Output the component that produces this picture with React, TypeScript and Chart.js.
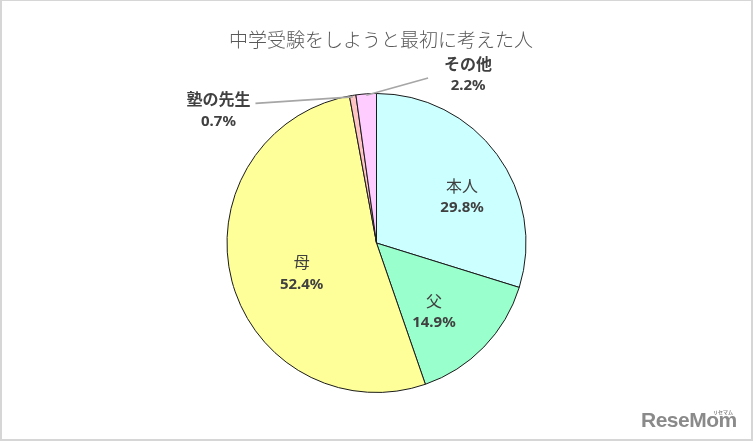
import React, { useEffect, useRef } from "react";
import { Chart, registerables } from "chart.js";

Chart.register(...registerables);

const categories = ["本人", "父", "母", "塾の先生", "その他"];
const values = [29.8, 14.9, 52.4, 0.7, 2.2];
const sliceColors = ["#CCFFFF", "#99FFCC", "#FFFF99", "#FFC4C4", "#FFCCFF"];
const titleText = "中学受験をしようと最初に考えた人";

// label placement (polar, relative to the pie centre): angle in degrees, radius as a fraction of the pie radius
const labelAngles = [-28.3, 50.2, 158, -140, -61.4];
const labelRadii = [0.65, 0.6, 0.54, 1.38, 1.28];
const labelOutside = [false, false, false, true, true];

const JP = "'Noto Sans CJK JP', 'Noto Sans', sans-serif";
const NUM = "'Noto Sans', 'Noto Sans CJK JP', sans-serif";

const labelPlugin = {
  id: "sliceLabels",
  afterDatasetsDraw(chart: any) {
    const ctx = chart.ctx as CanvasRenderingContext2D;
    const meta = chart.getDatasetMeta(0);
    ctx.save();
    // title
    ctx.fillStyle = "#595959";
    ctx.font = `300 19px ${JP}`;
    ctx.textAlign = "center";
    ctx.textBaseline = "middle";
    ctx.fillText(titleText, 381, 40);

    meta.data.forEach((arc: any, i: number) => {
      const p = arc.getProps(["x", "y", "outerRadius", "startAngle", "endAngle"], true);
      const a = (labelAngles[i] * Math.PI) / 180;
      const lx = p.x + Math.cos(a) * p.outerRadius * labelRadii[i];
      const ly = p.y + Math.sin(a) * p.outerRadius * labelRadii[i];
      const nameY = ly - 11;
      const pctY = ly + 11;

      if (labelOutside[i]) {
        ctx.font = `bold 16px ${JP}`;
        const w = ctx.measureText(categories[i]).width;
        const mid = (p.startAngle + p.endAngle) / 2;
        const ex = p.x + Math.cos(mid) * p.outerRadius * 0.99;
        const ey = p.y + Math.sin(mid) * p.outerRadius * 0.99;
        let sx: number, sy: number;
        if (Math.cos(a) < 0) {
          sx = lx + w / 2 + 5;
          sy = nameY + 4;
        } else {
          sx = lx - w / 2 - 16;
          sy = ly + 3;
        }
        ctx.strokeStyle = "#A6A6A6";
        ctx.lineWidth = 1.6;
        ctx.beginPath();
        ctx.moveTo(sx, sy);
        ctx.lineTo(ex, ey);
        ctx.stroke();
      }

      ctx.fillStyle = "#404040";
      ctx.font = labelOutside[i] ? `bold 16px ${JP}` : `400 16px ${JP}`;
      ctx.fillText(categories[i], lx, nameY);
      ctx.font = `bold 15px ${NUM}`;
      ctx.fillText(values[i].toFixed(1) + "%", lx, pctY);
    });
    ctx.restore();
  },
};

export default function App() {
  const ref = useRef<HTMLCanvasElement | null>(null);
  useEffect(() => {
    if (!ref.current) return;
    const chart = new Chart(ref.current, {
      type: "pie",
      data: {
        labels: categories,
        datasets: [
          {
            data: values,
            backgroundColor: sliceColors,
            borderColor: "#1a1a1a",
            borderWidth: 1,
          },
        ],
      },
      options: {
        responsive: false,
        animation: false,
        devicePixelRatio: 1,
        layout: { padding: { top: 93, bottom: 50, left: 226, right: 227 } },
        plugins: {
          legend: { display: false },
          tooltip: { enabled: false },
          title: { display: false },
        },
        events: [],
      },
      plugins: [labelPlugin],
    });
    return () => chart.destroy();
  }, []);

  return (
    <div
      style={{
        position: "fixed",
        left: 0,
        top: 0,
        width: 754,
        height: 443,
        background: "#ffffff",
      }}
    >
      <canvas ref={ref} width={754} height={443} style={{ position: "absolute", left: 0, top: 0 }} />
      <div
        style={{
          position: "absolute",
          left: 0,
          top: 0,
          width: 753,
          height: 441,
          boxSizing: "border-box",
          border: "2px solid #D6D6D6",
          borderTopWidth: 1,
          pointerEvents: "none",
        }}
      />
      <div
        style={{
          position: "absolute",
          left: 641,
          top: 407,
          fontFamily: "'Liberation Sans', Arial, sans-serif",
          fontWeight: "bold",
          fontSize: 21,
          color: "#8a8a8a",
          letterSpacing: -0.5,
          lineHeight: "26px",
          whiteSpace: "nowrap",
        }}
      >
        ReseMom
        <span
          style={{
            position: "absolute",
            left: 72,
            top: 2,
            fontSize: 5,
            fontFamily: "'Noto Sans CJK JP', sans-serif",
            color: "#8a8a8a",
            letterSpacing: 0,
            lineHeight: "6px",
          }}
        >
          リセマム
        </span>
      </div>
    </div>
  );
}
